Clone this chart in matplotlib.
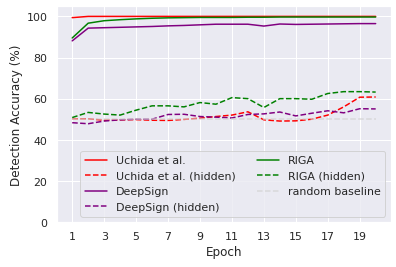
import matplotlib
matplotlib.use("Agg")
import matplotlib.pyplot as plt
import numpy as np
import seaborn as sns

sns.set_theme(style="darkgrid")

epochs = np.arange(1, 21)

uchida = [99.4, 100.0, 100.0, 100.0, 100.0, 100.0, 100.0, 100.0, 100.0, 100.0,
          100.0, 100.0, 100.0, 100.0, 100.0, 100.0, 100.0, 100.0, 100.0, 100.0]
uchida_hidden = [50.2, 50.2, 49.5, 49.7, 49.8, 49.5, 49.4, 49.9, 50.5, 51.3,
                 52.0, 53.6, 49.7, 49.1, 49.2, 50.0, 52.0, 56.0, 60.7, 60.8]
deepsign = [88.1, 94.3, 94.5, 94.7, 94.9, 95.1, 95.4, 95.6, 95.9, 96.2,
            96.2, 96.2, 95.3, 96.3, 96.1, 96.2, 96.3, 96.4, 96.5, 96.5]
deepsign_hidden = [48.3, 47.8, 49.1, 49.7, 50.0, 50.0, 52.3, 52.4, 51.3, 51.0,
                   50.6, 52.3, 52.6, 53.5, 51.6, 52.9, 54.1, 53.1, 55.1, 55.0]
riga = [89.5, 96.7, 97.9, 98.4, 98.8, 99.1, 99.3, 99.4, 99.5, 99.5,
        99.5, 99.6, 99.6, 99.7, 99.7, 99.7, 99.7, 99.7, 99.7, 99.7]
riga_hidden = [50.8, 53.3, 52.5, 52.0, 54.4, 56.5, 56.5, 56.0, 58.1, 57.3,
               60.5, 60.0, 55.7, 60.0, 60.0, 59.7, 62.5, 63.4, 63.4, 63.2]
baseline = [50.0] * 20

fig, ax = plt.subplots(figsize=(5.5, 3.72), dpi=72)
fig.subplots_adjust(left=0.144, right=0.987, top=0.974, bottom=0.168)

ax.plot(epochs, uchida, color="red", label="Uchida et al.")
ax.plot(epochs, uchida_hidden, color="red", linestyle="--", label="Uchida et al. (hidden)")
ax.plot(epochs, deepsign, color="purple", label="DeepSign")
ax.plot(epochs, deepsign_hidden, color="purple", linestyle="--", label="DeepSign (hidden)")
ax.plot(epochs, riga, color="green", label="RIGA")
ax.plot(epochs, riga_hidden, color="green", linestyle="--", label="RIGA (hidden)")
ax.plot(epochs, baseline, color="lightgray", linestyle="--", alpha=0.8, label="random baseline")

ax.set_xticks(range(1, 21, 2))
ax.set_ylim(0, 105)
ax.set_xlabel("Epoch", fontsize=12)
ax.set_ylabel("Detection Accuracy (%)", fontsize=12)
ax.tick_params(labelsize=11)
ax.legend(ncol=2, loc="lower right", fontsize=11)

fig.savefig("out.png", dpi=72)
